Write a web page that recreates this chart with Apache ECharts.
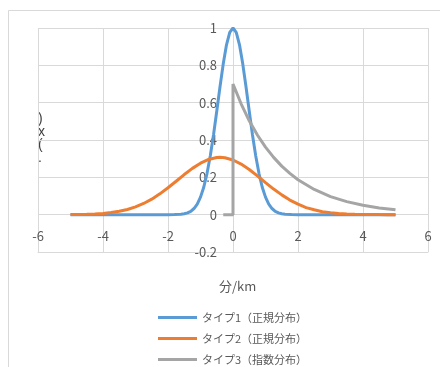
<!DOCTYPE html>
<html>
<head>
<meta charset="utf-8">
<script src="https://cdn.jsdelivr.net/npm/echarts@6/dist/echarts.min.js"></script>
<style>
html,body{margin:0;padding:0;background:#fff;}
#c{width:440px;height:367px;}
</style>
</head>
<body>
<div id="c"></div>
<script>
// ---- data ----
const seriesNames = ['タイプ1（正規分布）', 'タイプ2（正規分布）', 'タイプ3（指数分布）'];

const type1X = [-5, -2, -1.8, -1.6, -1.5, -1.4, -1.3, -1.2, -1.1, -1, -0.9, -0.8, -0.7, -0.6, -0.5, -0.4, -0.3, -0.2, -0.1, 0,
                0.1, 0.2, 0.3, 0.4, 0.5, 0.6, 0.7, 0.8, 0.9, 1, 1.1, 1.2, 1.3, 1.4, 1.5, 1.6, 1.8, 2, 5];
const type1Y = [0, 0.0001, 0.0005, 0.0024, 0.005, 0.0097, 0.018, 0.033, 0.057, 0.094, 0.147, 0.220, 0.314, 0.427, 0.554, 0.685, 0.808, 0.910, 0.977, 1,
                0.977, 0.910, 0.808, 0.685, 0.554, 0.427, 0.314, 0.220, 0.147, 0.094, 0.057, 0.033, 0.018, 0.0097, 0.005, 0.0024, 0.0005, 0.0001, 0];

const type2X = [-5, -4.75, -4.5, -4.25, -4, -3.75, -3.5, -3.25, -3, -2.75, -2.5, -2.25, -2, -1.75, -1.5, -1.25, -1, -0.75, -0.5, -0.4, -0.25, 0,
                0.25, 0.5, 0.75, 1, 1.25, 1.5, 1.75, 2, 2.25, 2.5, 2.75, 3, 3.25, 3.5, 3.75, 4, 4.25, 4.5, 4.75, 5];
const type2Y = [0.0006, 0.0011, 0.0021, 0.0038, 0.0066, 0.0111, 0.018, 0.0278, 0.042, 0.060, 0.083, 0.1115, 0.144, 0.179, 0.215, 0.248, 0.276, 0.296, 0.306, 0.307, 0.305, 0.293,
                0.271, 0.242, 0.2076, 0.172, 0.137, 0.106, 0.078, 0.056, 0.038, 0.026, 0.016, 0.010, 0.006, 0.0034, 0.0019, 0.001, 0.0005, 0.0003, 0.0002, 0.0001];

const type3X = [-0.3, 0, 0, 0.25, 0.5, 0.75, 1, 1.25, 1.5, 1.75, 2, 2.5, 3, 3.5, 4, 4.5, 5];
const type3Y = [0, 0, 0.7, 0.594, 0.503, 0.427, 0.362, 0.307, 0.260, 0.221, 0.187, 0.135, 0.097, 0.070, 0.050, 0.036, 0.026];

const xTicks = { min: -6, max: 6, interval: 2 };
const yTicks = { min: -0.2, max: 1, interval: 0.2 };
const xTitle = '分/km';
const yTitleGlyphs = ')\nx\n(\n.';

// ---- build ----
const zip = (xs, ys) => xs.map((x, i) => [x, ys[i]]);
const colors = ['#5B9BD5', '#ED7D31', '#A5A5A5'];
const font = '"Noto Sans CJK JP", "Noto Sans", sans-serif';
const txt = '#595959';
const grid = '#D9D9D9';

const chart = echarts.init(document.getElementById('c'), null, { renderer: 'canvas' });
chart.setOption({
  animation: false,
  backgroundColor: '#fff',
  textStyle: { fontFamily: font },
  title: {
    text: xTitle,
    left: 219, top: 280, padding: 0,
    textStyle: { fontSize: 13, fontWeight: 'normal', color: txt, fontFamily: font }
  },
  grid: { left: 38, right: 12, top: 28, bottom: 115, containLabel: false },
  xAxis: {
    type: 'value', min: xTicks.min, max: xTicks.max, interval: xTicks.interval,
    position: 'bottom',
    axisLine: { show: true, onZero: false, lineStyle: { color: grid, width: 1 } },
    axisTick: { show: false },
    axisLabel: { color: txt, fontSize: 13, margin: -22, fontFamily: font },
    splitLine: { show: true, lineStyle: { color: grid, width: 1 } }
  },
  yAxis: {
    type: 'value', min: yTicks.min, max: yTicks.max, interval: yTicks.interval,
    position: 'left', offset: -195,
    axisLine: { show: false, onZero: false },
    axisTick: { show: false },
    axisLabel: { color: txt, fontSize: 13, margin: 16, fontFamily: font },
    splitLine: { show: true, lineStyle: { color: grid, width: 1 } }
  },
  legend: {
    orient: 'vertical', left: 158, top: 312, height: 60, padding: 0,
    itemWidth: 39, itemHeight: 3, itemGap: 10,
    icon: 'rect',
    textStyle: { color: txt, fontSize: 11, fontFamily: font },
    data: seriesNames
  },
  graphic: [
    { type: 'rect', shape: { x: 8.5, y: 10.5, width: 600, height: 600 }, style: { fill: 'none', stroke: grid, lineWidth: 1 }, silent: true, z: -10 },
    { type: 'text', left: 38, top: 112, style: { text: yTitleGlyphs, fill: '#404040', fontSize: 14, lineHeight: 13, font: '14px ' + font } }
  ],
  series: [
    { name: seriesNames[0], type: 'line', data: zip(type1X, type1Y), showSymbol: false, symbol: 'none', smooth: false,
      lineStyle: { color: colors[0], width: 3 }, itemStyle: { color: colors[0] } },
    { name: seriesNames[1], type: 'line', data: zip(type2X, type2Y), showSymbol: false, symbol: 'none', smooth: false,
      lineStyle: { color: colors[1], width: 3 }, itemStyle: { color: colors[1] } },
    { name: seriesNames[2], type: 'line', data: zip(type3X, type3Y), showSymbol: false, symbol: 'none', smooth: false,
      lineStyle: { color: colors[2], width: 3 }, itemStyle: { color: colors[2] } }
  ]
});
</script>
</body>
</html>
